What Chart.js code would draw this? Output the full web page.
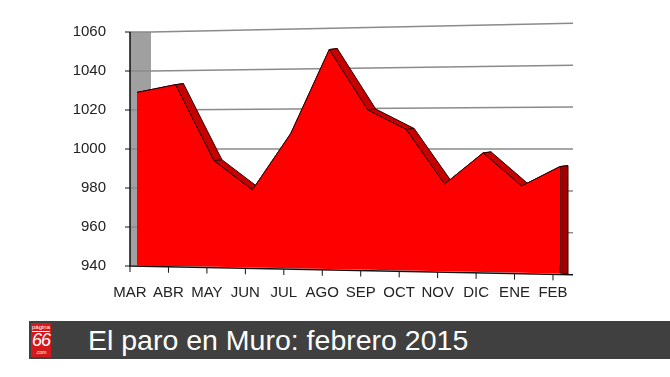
<!DOCTYPE html>
<html lang="es">
<head>
    <meta charset="UTF-8">
    <title>El paro en Muro</title>
    <script src="https://cdn.jsdelivr.net/npm/chart.js@4.4.0/dist/chart.umd.min.js"></script>
    <style>
        body { margin: 0; background: #fff; width: 670px; height: 377px; position: relative; overflow: hidden; font-family: "Liberation Sans", Arial, sans-serif; }
        #wrap { position: absolute; left: 0; top: 0; width: 670px; height: 321px; }
        .banner { position: absolute; left: 29px; top: 321px; width: 641px; height: 38px; background: #404040; }
        .logo { position: absolute; left: 2px; top: 2px; width: 20px; height: 34px; background: #d3191c; color: #fff; text-align: center; }
        .logo .pg { font-size: 6px; line-height: 7px; border-bottom: 1px solid #fff; margin: 1px 1px 0; }
        .logo .num { font-size: 18px; line-height: 17px; font-style: italic; letter-spacing: -1px; }
        .logo .com { font-size: 5px; line-height: 6px; }
        .title { position: absolute; left: 59px; top: 2px; color: #fff; font-size: 28.5px; line-height: 34px; white-space: nowrap; }
    </style>
</head>
<body>
    <div id="wrap"><canvas id="chart" width="670" height="321"></canvas></div>
    <div class="banner">
        <div class="logo"><div class="pg">página</div><div class="num">66</div><div class="com">.com</div></div>
        <div class="title">El paro en Muro: febrero 2015</div>
    </div>
<script>
// datos
const meses = ['MAR', 'ABR', 'MAY', 'JUN', 'JUL', 'AGO', 'SEP', 'OCT', 'NOV', 'DIC', 'ENE', 'FEB'];
const parados = [1029, 1033, 994, 979, 1008, 1051, 1020, 1010, 982, 998, 981, 991];
const yMin = 940, yMax = 1060, yStep = 20;

const fuente = '"Liberation Sans", Arial, sans-serif';

// efecto 3D: pared, rejilla inclinada, ejes y canto del area
const efecto3d = {
    id: 'efecto3d',
    beforeDatasetsDraw(chart) {
        const ctx = chart.ctx;
        const a = chart.chartArea;
        const y = chart.scales.y;
        const x = chart.scales.x;
        const dx = 7;
        const yc = y.getPixelForValue(1000);
        const pts = chart.getDatasetMeta(0).data;
        ctx.save();

        // pared izquierda
        ctx.fillStyle = '#a0a0a0';
        ctx.fillRect(a.left - dx, a.top, dx + 14, a.bottom - a.top);

        // rejilla
        ctx.strokeStyle = '#8a8a8a';
        ctx.lineWidth = 1.5;
        for (let v = yMin + yStep; v <= yMax; v += yStep) {
            const yl = y.getPixelForValue(v);
            const yr = yc + (yl - yc) * 1.075;
            ctx.beginPath();
            ctx.moveTo(a.left - dx, yl);
            ctx.lineTo(a.left + 14, yl);
            ctx.lineTo(a.right + 13, yr);
            ctx.stroke();
        }

        // base inclinada de la cara frontal
        const yBotR = yc + (a.bottom - yc) * 1.075;
        const slope = (yBotR - a.bottom) / (a.right + 13 - a.left + dx);
        const first = pts[0], last = pts[pts.length - 1];
        ctx.fillStyle = '#ff0000';
        ctx.beginPath();
        ctx.moveTo(first.x, a.bottom - 1);
        ctx.lineTo(last.x, a.bottom - 1);
        ctx.lineTo(last.x, a.bottom + (last.x - a.left + dx) * slope - 1);
        ctx.lineTo(first.x, a.bottom + (first.x - a.left + dx) * slope - 1);
        ctx.closePath();
        ctx.fill();

        // ejes
        ctx.strokeStyle = '#111';
        ctx.lineWidth = 1.5;
        ctx.beginPath();
        ctx.moveTo(a.left - dx, a.top);
        ctx.lineTo(a.left - dx, a.bottom);
        ctx.lineTo(a.right + 13, yBotR);
        ctx.stroke();
        ctx.lineWidth = 1;
        for (let v = yMin; v <= yMax; v += yStep) {
            const yl = y.getPixelForValue(v);
            ctx.beginPath();
            ctx.moveTo(a.left - dx - 5, yl);
            ctx.lineTo(a.left - dx, yl);
            ctx.stroke();
        }
        meses.forEach((m, i) => {
            const px = x.getPixelForValue(i) - dx;
            const py = a.bottom + (px - a.left + dx) * slope;
            ctx.beginPath();
            ctx.moveTo(px, py);
            ctx.lineTo(px, py + 6);
            ctx.stroke();
        });

        // canto superior y lateral del area
        const ox = 8, oy = -1;
        ctx.strokeStyle = '#300000';
        ctx.lineWidth = 1;
        ctx.fillStyle = '#c40000';
        for (let i = 0; i < pts.length - 1; i++) {
            const p = pts[i], q = pts[i + 1];
            ctx.beginPath();
            ctx.moveTo(p.x, p.y);
            ctx.lineTo(q.x, q.y);
            ctx.lineTo(q.x + ox, q.y + oy);
            ctx.lineTo(p.x + ox, p.y + oy);
            ctx.closePath();
            ctx.fill();
            ctx.stroke();
        }
        ctx.fillStyle = '#a00000';
        ctx.beginPath();
        ctx.moveTo(last.x, last.y);
        ctx.lineTo(last.x + ox, last.y + oy);
        ctx.lineTo(last.x + ox, a.bottom + 8);
        ctx.lineTo(last.x, a.bottom + 7);
        ctx.closePath();
        ctx.fill();
        ctx.stroke();
        ctx.restore();
    }
};

new Chart(document.getElementById('chart'), {
    type: 'line',
    data: {
        labels: meses,
        datasets: [{
            data: parados,
            fill: 'start',
            backgroundColor: '#ff0000',
            borderColor: '#300000',
            borderWidth: 1,
            pointRadius: 0,
            tension: 0
        }]
    },
    options: {
        responsive: false,
        animation: false,
        layout: { padding: { left: 67, right: 110, top: 31, bottom: 15 } },
        plugins: { legend: { display: false }, tooltip: { enabled: false } },
        scales: {
            x: {
                offset: false,
                grid: { display: false },
                border: { display: false },
                ticks: { autoSkip: false, maxRotation: 0, labelOffset: -7, padding: 10, color: '#222', font: { family: fuente, size: 15 } },
                afterFit(scale) { scale.height = 40; }
            },
            y: {
                min: yMin,
                max: yMax,
                grid: { display: false },
                border: { display: false },
                ticks: { stepSize: yStep, padding: 23, color: '#222', font: { family: fuente, size: 15 }, callback: v => String(v) },
                afterFit(scale) { scale.width = 70; }
            }
        }
    },
    plugins: [efecto3d]
});
</script>
</body>
</html>
